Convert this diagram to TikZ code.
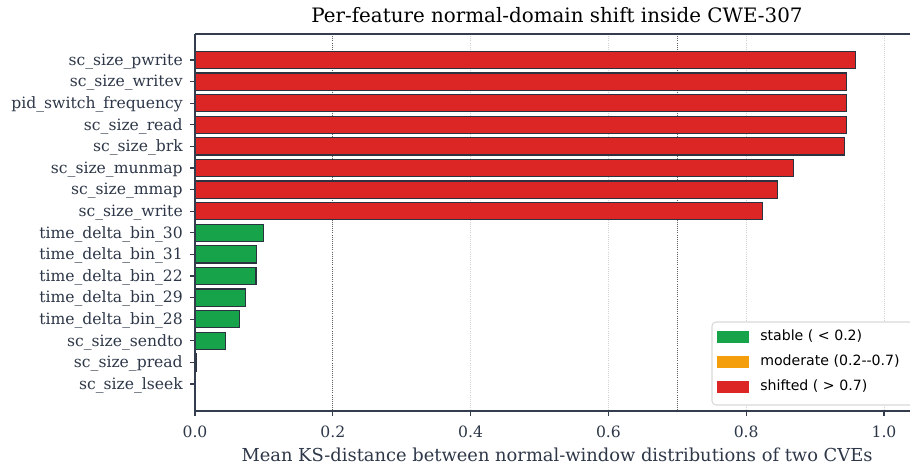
\documentclass[tikz,border=0pt]{standalone}
\usepackage{fontspec}
\setmainfont{DejaVu Serif}
\setsansfont{DejaVu Sans}
\definecolor{shiftred}{HTML}{DC2626}
\definecolor{stablegreen}{HTML}{16A34A}
\definecolor{modorange}{HTML}{F59E0B}
\definecolor{baredge}{HTML}{2B3340}
\definecolor{inkgray}{HTML}{2D3748}
\definecolor{spine}{HTML}{333D4D}
\tikzset{
    bar/.style={draw=baredge, line width=0.8pt},
    ylab/.style={anchor=east, font=\fontsize{11.7}{13}\selectfont, text=inkgray, inner sep=0pt},
    xlab/.style={anchor=north, font=\fontsize{11.7}{13}\selectfont, text=inkgray, inner sep=0pt},
    legtext/.style={anchor=west, font=\sffamily\fontsize{10.6}{12}\selectfont, text=black, inner sep=0pt},
    gridline/.style={gray!35, densely dotted, line width=0.6pt},
    threshold/.style={gray!75!black, densely dotted, line width=0.6pt},
}
\begin{document}
\begin{tikzpicture}[x=0.75pt, y=-0.75pt]
    \useasboundingbox (0,0) rectangle (910,468);
    \clip (0,0) rectangle (910,468);
    % axes: x origin and width of one unit, first row and row spacing
    \def\xO{195}
    \def\xW{689}
    \def\yO{60}
    \def\dy{21.6}
    \def\yTop{34}
    \def\yBot{411}

    % grid and thresholds
    \foreach \t in {0.2,0.4,0.6,0.8,1.0}
        \draw[gridline] ({\xO+\t*\xW},\yTop) -- ({\xO+\t*\xW},\yBot);
    \foreach \t in {0.2,0.7}
        \draw[threshold] ({\xO+\t*\xW},\yTop) -- ({\xO+\t*\xW},\yBot);

    % bars, top to bottom
    \foreach \name/\val/\col [count=\i from 0] in {
        sc\_size\_pwrite/0.959/shiftred,
        sc\_size\_writev/0.946/shiftred,
        pid\_switch\_frequency/0.946/shiftred,
        sc\_size\_read/0.945/shiftred,
        sc\_size\_brk/0.942/shiftred,
        sc\_size\_munmap/0.869/shiftred,
        sc\_size\_mmap/0.845/shiftred,
        sc\_size\_write/0.824/shiftred,
        time\_delta\_bin\_30/0.100/stablegreen,
        time\_delta\_bin\_31/0.0895/stablegreen,
        time\_delta\_bin\_22/0.0885/stablegreen,
        time\_delta\_bin\_29/0.073/stablegreen,
        time\_delta\_bin\_28/0.065/stablegreen,
        sc\_size\_sendto/0.044/stablegreen,
        sc\_size\_pread/0.0015/stablegreen,
        sc\_size\_lseek/0.001/stablegreen}
    {
        \draw[bar, fill=\col] (\xO,{\yO+\i*\dy-8.6}) rectangle ({\xO+\val*\xW},{\yO+\i*\dy+8.6});
        \draw[spine, line width=0.8pt] (\xO,{\yO+\i*\dy}) -- ({\xO-5},{\yO+\i*\dy});
        \node[ylab] (lab\i) at ({\xO-12},{\yO+\i*\dy+1.2}) {\name};
    }

    % spines
    \draw[spine, line width=1pt] (\xO,\yTop) -- (\xO,\yBot);
    \draw[spine, line width=1pt] (\xO,\yTop) -- (912,\yTop);
    \draw[spine, line width=1pt] (\xO,\yBot) -- (912,\yBot);

    % x ticks
    \foreach \t in {0.0,0.2,0.4,0.6,0.8,1.0}
    {
        \draw[spine, line width=0.8pt] ({\xO+\t*\xW},\yBot) -- ({\xO+\t*\xW},{\yBot+5});
        \node[xlab] (tick\t) at ({\xO+\t*\xW},{\yBot+15}) {\t};
    }

    % labels
    \node[font=\fontsize{13.4}{15}\selectfont, text=inkgray] (xaxis) at (557,455) {Mean KS-distance between normal-window distributions of two CVEs};
    \node[font=\fontsize{14.9}{17}\selectfont, text=black] (title) at (557,15) {Per-feature normal-domain shift inside CWE-307};

    % legend
    \draw[rounded corners=3pt, draw=gray!30, fill=white, line width=0.8pt] (712,322) rectangle (930,405);
    \foreach \col/\txt [count=\j from 0] in {
        stablegreen/{stable ( < 0.2)},
        modorange/{moderate (0.2-{}-0.7)},
        shiftred/{shifted ( > 0.7)}}
    {
        \fill[\col] (717,{330.5+\j*25}) rectangle (749,{342.5+\j*25});
        \node[legtext] (leg\j) at (760,{336.5+\j*25}) {\txt};
    }
\end{tikzpicture}
\end{document}
